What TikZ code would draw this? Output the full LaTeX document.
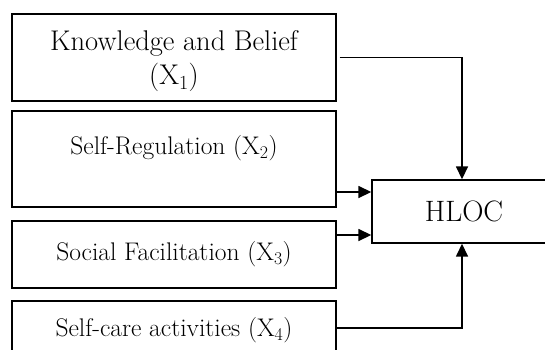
\documentclass[tikz,border=0pt]{standalone}
\usepackage{tikz}
\usetikzlibrary{arrows.meta}

\begin{document}
\begin{tikzpicture}[x=1pt, y=-1pt,
    factor/.style={draw, line width=1.4pt, minimum width=324pt, inner sep=0pt, font=\fontsize{25.5}{30}\selectfont},
    outcome/.style={draw, line width=1.4pt, minimum width=184pt, minimum height=63pt, inner sep=0pt, font=\fontsize{29.5}{33}\selectfont},
    flow/.style={line width=1.6pt, -{Triangle[length=13pt, width=12pt]}}]
    \useasboundingbox (0,0) rectangle (545,349);
    \clip (0,0) rectangle (545,349);

    %Factor boxes
    \node[factor, minimum height=87pt, align=center, text height=61pt, font=\fontsize{28.5}{34}\selectfont] (kb) at (174,57.5) {Knowledge and Belief\\(X\textsubscript{1})};
    \node[factor, minimum height=96pt, text height=17pt, text depth=26pt] (sr) at (174,159) {Self-Regulation (X\textsubscript{2})};
    \node[factor, minimum height=67pt] (sf) at (174,254.5) {Social Facilitation (X\textsubscript{3})};
    \node[factor, minimum height=58pt] (sc) at (174,330) {Self-care activities (X\textsubscript{4})};

    %Outcome box
    \node[outcome] (hloc) at (464,211.5) {HLOC};

    %Arrows
    \coordinate (in2) at ([yshift=19.5pt]hloc.west);
    \coordinate (in3) at ([yshift=-23.5pt]hloc.west);
    \draw[flow] ([xshift=3pt]kb.east) -| ([xshift=-2pt]hloc.north);
    \draw[flow] (in2 -| sr.east) -- (in2);
    \draw[flow] (in3 -| sf.east) -- (in3);
    \draw[flow] ([yshift=2pt]sc.east) -| ([xshift=-2pt]hloc.south);
\end{tikzpicture}
\end{document}
